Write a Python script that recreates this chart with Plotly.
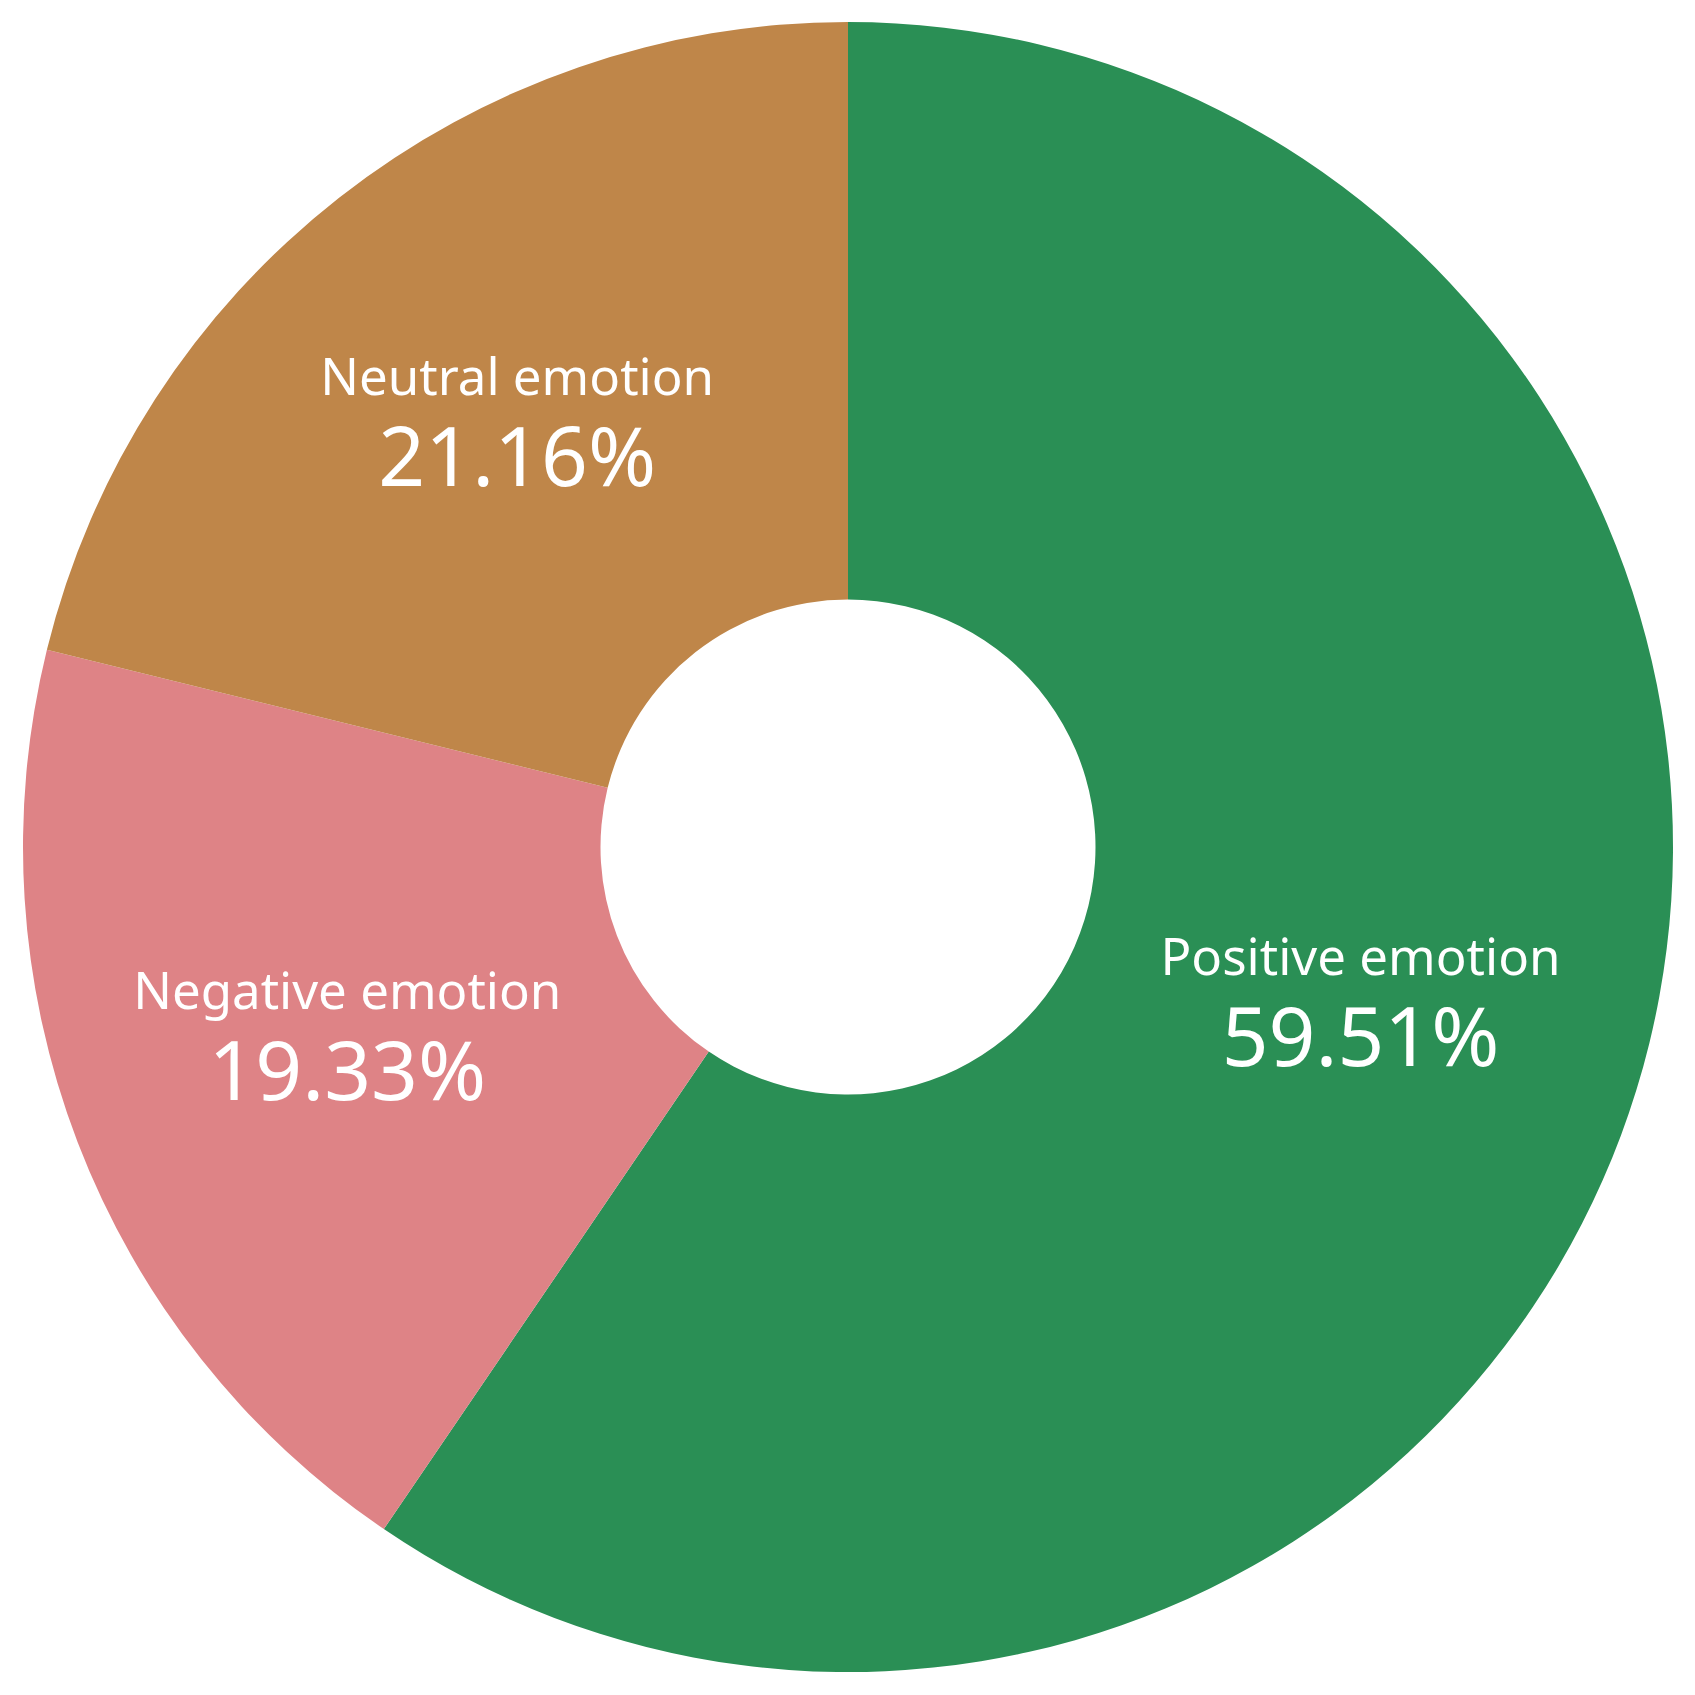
import plotly.graph_objects as go

labels = ["Positive emotion", "Negative emotion", "Neutral emotion"]
values = [59.51, 19.33, 21.16]
colors = ["#2A8F55", "#DE8386", "#BF8649"]

texts = [
    f"<span style='font-size:51px'>{l}</span><br><span style='font-size:82px'>{v:.2f}%</span>"
    for l, v in zip(labels, values)
]

fig = go.Figure(go.Pie(
    labels=labels,
    values=values,
    text=texts,
    textinfo="text",
    hole=0.30,
    sort=False,
    direction="clockwise",
    rotation=0,
    marker=dict(colors=colors, line=dict(width=0)),
    textposition="inside",
    insidetextorientation="horizontal",
    textfont=dict(family="Noto Sans", size=70, color="white"),
    showlegend=False,
    domain=dict(x=[15/1695, 1665/1695], y=[31/1695, 1681/1695]),
))
fig.update_layout(
    width=1695, height=1695,
    margin=dict(l=0, r=0, t=0, b=0),
    paper_bgcolor="white",
    plot_bgcolor="white",
)
fig.write_html("out.html")
